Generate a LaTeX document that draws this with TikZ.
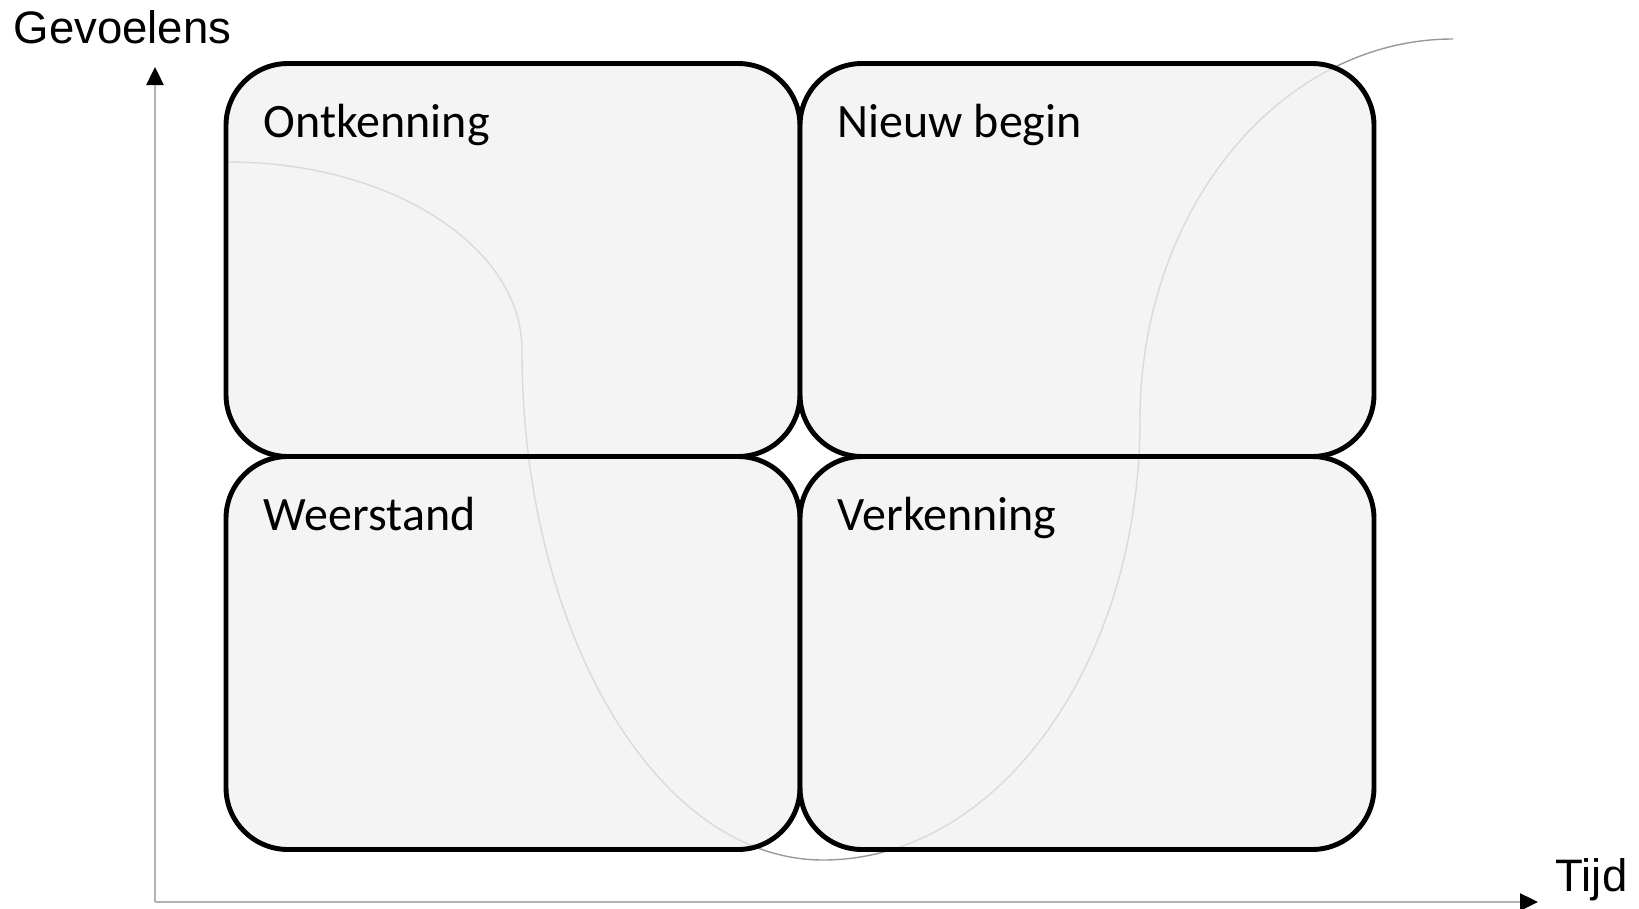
\documentclass[tikz,border=0pt]{standalone}
\usepackage{fontspec}
\setmainfont{Carlito}
\newfontfamily\asfont{Liberation Sans}
\usetikzlibrary{arrows.meta,positioning}
\tikzset{
  fase/.style={draw=black, line width=1.4pt, rounded corners=0.62cm, fill=black!6, fill opacity=0.75,
    minimum width=5.74cm, minimum height=3.93cm, inner sep=0pt, outer sep=0pt},
  faselabel/.style={anchor=base west, inner sep=0pt, font=\fontsize{13.65}{16}\selectfont},
  as/.style={draw=black!30, line width=0.7pt, -{Triangle[length=0.18cm, width=0.17cm, color=black, fill=black]}},
  aslabel/.style={anchor=base west, inner sep=0pt, font=\asfont\fontsize{12.95}{15}\selectfont},
}
\begin{document}
\begin{tikzpicture}
    \useasboundingbox (0, 0) rectangle (16.39, -9.09);
    % assen
    \coordinate (oorsprong) at (1.55, -9.02);
    \coordinate (ytop) at (1.55, -0.67);
    \coordinate (xeind) at (15.38, -9.02);
    \draw[as] (oorsprong) -- (ytop);
    \draw[as] (oorsprong) -- (xeind);
    \node[aslabel] (gevoelens) at (0.13, -0.43) {Gevoelens};
    \node[aslabel] (tijd) at (15.55, -8.91) {Tijd};
    % verandercurve
    \draw[black!40, line width=0.4pt] (2.28, -1.62) .. controls (3.90, -1.62) and (5.22, -2.46) .. (5.22, -3.50)
        .. controls (5.22, -6.32) and (6.57, -8.60) .. (8.23, -8.60)
        .. controls (9.98, -8.60) and (11.40, -6.63) .. (11.40, -4.20)
        .. controls (11.40, -2.10) and (12.80, -0.39) .. (14.53, -0.39);
    % fasen
    \node[fase] (ontkenning) at (5.13, -2.60) {};
    \node[fase, right=0pt of ontkenning] (nieuwbegin) {};
    \node[fase, below=0pt of ontkenning] (weerstand) {};
    \node[fase, right=0pt of weerstand] (verkenning) {};
    \node[faselabel] (ontkenninglabel) at ([shift={(0.37, -0.735)}]ontkenning.north west) {Ontkenning};
    \node[faselabel] (nieuwbeginlabel) at ([shift={(0.37, -0.735)}]nieuwbegin.north west) {Nieuw begin};
    \node[faselabel] (weerstandlabel) at ([shift={(0.37, -0.735)}]weerstand.north west) {Weerstand};
    \node[faselabel] (verkenninglabel) at ([shift={(0.37, -0.735)}]verkenning.north west) {Verkenning};
\end{tikzpicture}
\end{document}
